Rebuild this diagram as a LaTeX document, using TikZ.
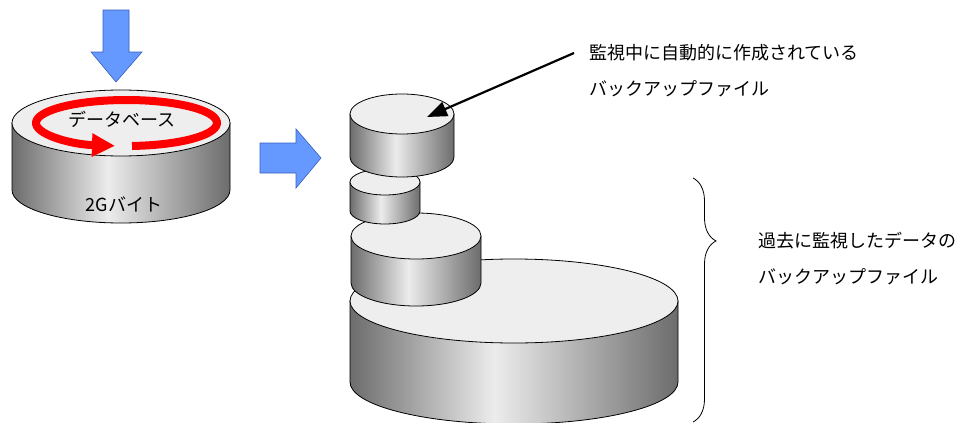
\documentclass[tikz,border=0pt]{standalone}
\usepackage{fontspec}
\setmainfont{Noto Sans CJK JP}
\usetikzlibrary{arrows.meta,decorations.pathreplacing}

\definecolor{topgray}{RGB}{238,238,238}
\definecolor{sidedark}{RGB}{108,108,108}
\definecolor{sidelight}{RGB}{236,236,236}
\definecolor{arrowblue}{RGB}{102,153,255}
\definecolor{arrowedge}{RGB}{55,95,190}
\pgfdeclarehorizontalshading{cylside}{100bp}{color(0bp)=(sidedark); color(25bp)=(sidedark); color(47bp)=(sidelight); color(75bp)=(sidedark); color(100bp)=(sidedark)}

\begin{document}
\begin{tikzpicture}[x=1pt,y=-1pt]
		\tikzstyle{disktop}=[draw,fill=topgray,line width=0.8pt]
		\tikzstyle{diskside}=[draw,shading=cylside,line width=0.8pt]
		\tikzstyle{blockarrow}=[fill=arrowblue,draw=arrowedge,line width=0.6pt,line join=miter]
		\tikzstyle{ring}=[draw=red,line width=8pt,-{Triangle[length=23pt,width=22pt]}]
		\tikzstyle{callout}=[line width=2.2pt,-{Triangle[length=20pt,width=15pt]}]
		\tikzstyle{lbl}=[inner sep=0,align=left,font=\fontsize{18}{36}\selectfont]
		
		\useasboundingbox (0,0) rectangle (962,423);
		
		% disks: center x / top center y / radii / height, bottom one first
		\foreach \cx/\cy/\rx/\ry/\h in {121/123/109/33/67, 514/301/164/42/81, 416/236/65/23/47, 385/182/35/13/29, 402/114/52/20/43}{
			\path[diskside] ({\cx-\rx},\cy) -- ({\cx-\rx},{\cy+\h})
				arc[start angle=180, end angle=0, x radius=\rx, y radius=\ry] -- ({\cx+\rx},\cy) -- cycle;
			\path[disktop] (\cx,\cy) ellipse[x radius=\rx, y radius=\ry];
		}
		
		% rotating database
		\draw[ring] ({126.5+90.5*cos(86.5)},{123+23*sin(86.5)})
			arc[start angle=86.5, end angle=-262.7, x radius=90.5, y radius=23];
		\node [lbl] (dblbl) at (122, 119) {データベース};
		\node [lbl] (sizelbl) at (124, 204) {2Gバイト};
		
		% block arrows
		\path[blockarrow] (103,10) -- (129,10) -- (129,52) -- (142,52) -- (116,82) -- (91,52) -- (103,52) -- cycle;
		\path[blockarrow] (260,143) -- (296,143) -- (296,129) -- (321,158) -- (296,188) -- (296,173) -- (260,173) -- cycle;
		
		% labels on the right
		\node [lbl, anchor=west] (newlbl) at (589, 71) {監視中に自動的に作成されている\\バックアップファイル};
		\node [lbl, anchor=west] (oldlbl) at (758, 259) {過去に監視したデータの\\バックアップファイル};
		
		\coordinate (newfrom) at (574, 53);
		\coordinate (newtip) at (427, 117);
		\draw[callout] (newfrom) -- (newtip);
		
		\coordinate (bracetop) at (693, 178);
		\coordinate (bracebot) at (693, 422);
		\draw[line width=0.8pt, decorate, decoration={brace, amplitude=23pt, aspect=0.258}] (bracetop) -- (bracebot);
	\end{tikzpicture}
\end{document}
